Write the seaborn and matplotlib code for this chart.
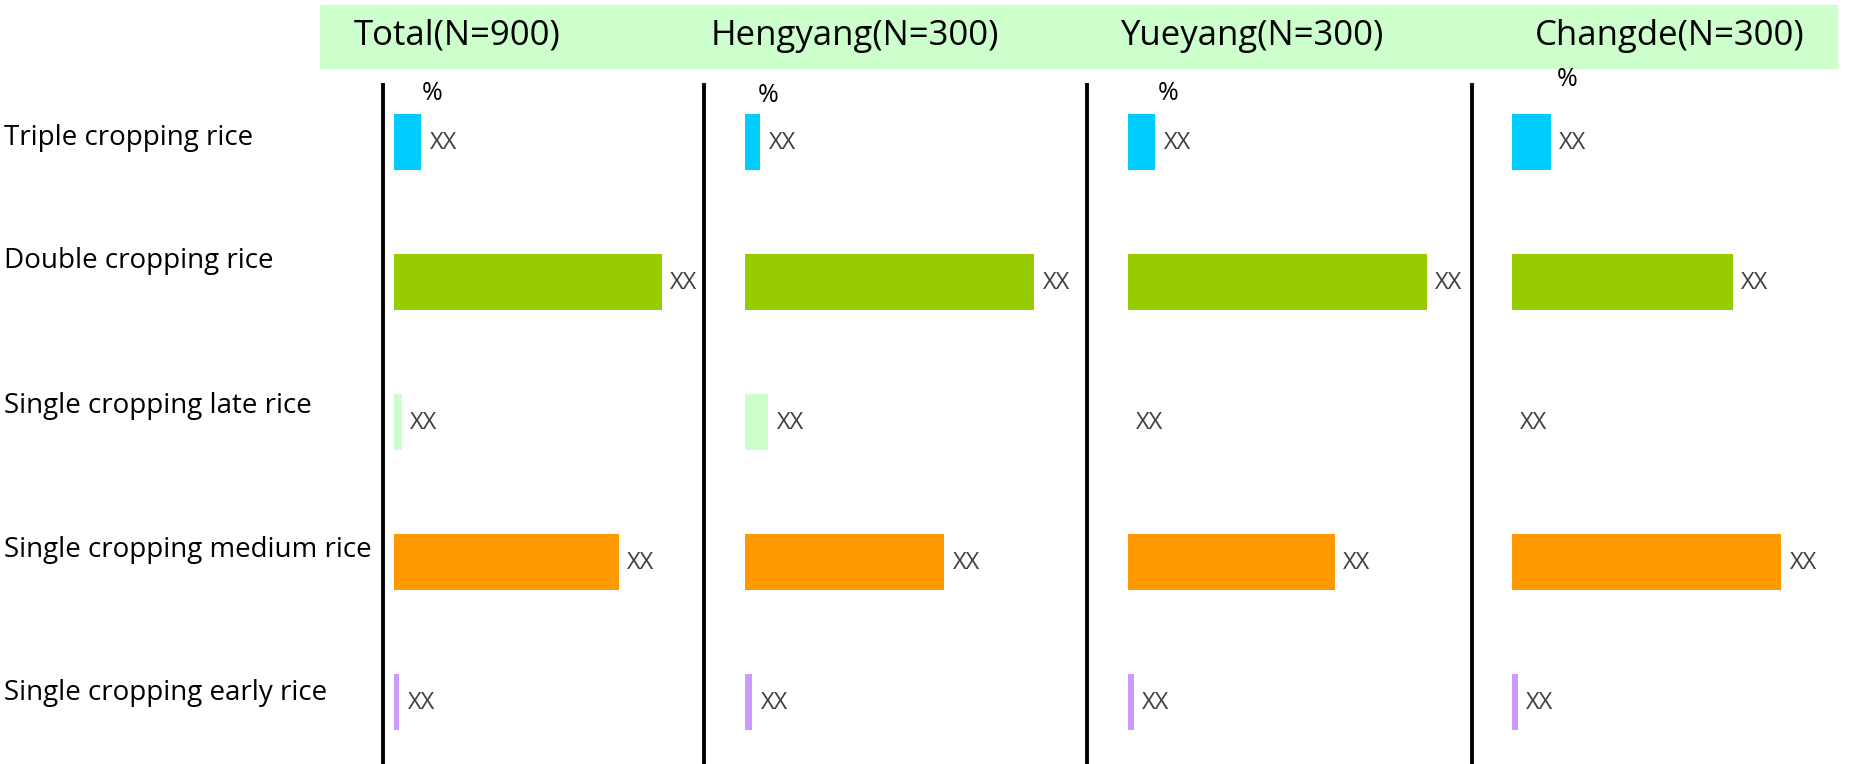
import numpy as np
import pandas as pd
import seaborn as sns
import matplotlib.pyplot as plt

# Data (percent)
categories = ['Triple cropping rice', 'Double cropping rice', 'Single cropping late rice',
              'Single cropping medium rice', 'Single cropping early rice']
regions = ['Total(N=900)', 'Hengyang(N=300)', 'Yueyang(N=300)', 'Changde(N=300)']
total = [5.1, 50.2, 1.5, 42.1, 1.0]
hengyang = [2.9, 54.2, 4.4, 37.3, 1.4]
yueyang = [5.1, 56.0, 0.0, 38.7, 1.1]
changde = [7.3, 41.3, 0.0, 50.4, 1.1]
bar_label = 'XX'
colors = ['#00CCFF', '#99CC00', '#CCFFCC', '#FF9900', '#CC99FF']

sns.set_theme(style='white')
plt.rcParams['font.family'] = ['Open Sans', 'DejaVu Sans']

W, H = 1861, 764
fig = plt.figure(figsize=(W / 100, H / 100), dpi=100)

# layout in pixels
line_x = [383, 704, 1087, 1472]
bar_start = [394, 745, 1128, 1512]
panel_right = [704, 1087, 1472, 1861]
top_px = 85
px_per_pct = 5.34
row0_px, row_step = 142, 140

# header band
fig.patches.append(plt.Rectangle((320 / W, 1 - 68 / H), (1837 - 320) / W, 63 / H,
                                 transform=fig.transFigure, color='#CCFFCC', zorder=0))
header_x = [457, 855, 1252, 1670]
for name, hx in zip(regions, header_x):
    fig.text(hx / W, 1 - 36 / H, name, ha='center', va='center', fontsize=25, color='black')

# cut-off title at the very top (only the descenders show)
fig.text(380 / W, 1 + 6 / H, 'Rice planting area by cropping', ha='left', va='baseline',
         fontsize=18, color='black')

pct_pos = [(432, 93), (768, 95), (1168, 93), (1567, 80)]

data = [total, hengyang, yueyang, changde]
for i, vals in enumerate(data):
    left = line_x[i] / W
    width = (panel_right[i] - line_x[i]) / W
    ax = fig.add_axes([left, 0, width, (H - top_px) / H])
    df = pd.DataFrame({'cat': categories, 'val': vals})
    sns.barplot(data=df, x='val', y='cat', hue='cat', palette=colors, legend=False,
                width=0.4, orient='h', ax=ax, linewidth=0, saturation=1)
    x0 = -(bar_start[i] - line_x[i]) / px_per_pct
    ax.set_xlim(x0, x0 + (panel_right[i] - line_x[i]) / px_per_pct)
    ax.set_ylim((H - row0_px) / row_step, -(row0_px - top_px) / row_step)
    for p in ax.patches:
        ax.annotate(bar_label, (p.get_x() + p.get_width(), p.get_y() + p.get_height() / 2),
                    xytext=(6, -1), textcoords='offset points', ha='left', va='center',
                    fontsize=17, color='#404040', annotation_clip=False)
    ax.set_xlabel('')
    ax.set_ylabel('')
    ax.set_xticks([])
    ax.set_yticks([])
    for s in ['top', 'right', 'bottom']:
        ax.spines[s].set_visible(False)
    ax.spines['left'].set_color('black')
    ax.spines['left'].set_linewidth(2.8)
    ax.patch.set_alpha(0)
    px, py = pct_pos[i]
    fig.text(px / W, 1 - py / H, '%', ha='center', va='center', fontsize=18, color='black')

# category labels on the left
label_y = [138, 261, 406, 550, 693]
for cat, ly in zip(categories, label_y):
    fig.text(4 / W, 1 - ly / H, cat, ha='left', va='center', fontsize=20, color='black')

fig.savefig('out.png', dpi=100)
